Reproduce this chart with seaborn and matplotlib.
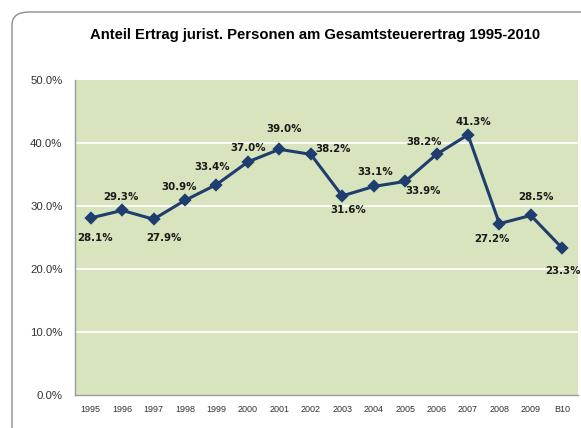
import matplotlib
matplotlib.use("Agg")
import matplotlib.pyplot as plt
from matplotlib.patches import FancyBboxPatch
import seaborn as sns

# data
years = ["1995", "1996", "1997", "1998", "1999", "2000", "2001", "2002",
         "2003", "2004", "2005", "2006", "2007", "2008", "2009", "B10"]
share = [28.1, 29.3, 27.9, 30.9, 33.4, 37.0, 39.0, 38.2,
         31.6, 33.1, 33.9, 38.2, 41.3, 27.2, 28.5, 23.3]
yticks = [0, 10, 20, 30, 40, 50]

# label offsets in pixels (dx, dy), layout only
label_off = [(4, -20), (-1, 13), (10, -19), (-6, 13), (-4, 18), (0, 14),
             (5, 20), (22, 5), (6, -14), (2, 14), (18, -10), (-12, 12),
             (5, 13), (-7, -15), (5, 18), (1, -23)]

line_col = "#1f3d6e"
bg_col = "#d7e4bd"

sns.set_theme(style="white")
plt.rcParams["font.family"] = ["Liberation Sans", "DejaVu Sans"]

fig = plt.figure(figsize=(5.81, 4.28), dpi=100)
ax = fig.add_axes([75 / 581, 1 - 395 / 428, 503 / 581, 315 / 428])

# chart frame with rounded corner (continues past the image edge)
frame = FancyBboxPatch((12 / 581, -0.2), 1.2, 1 - 12 / 428 + 0.2,
                       boxstyle="round,pad=0,rounding_size=0.03",
                       transform=fig.transFigure, fill=False,
                       edgecolor="#8c8c8c", linewidth=1.0, zorder=-5)
fig.patches.append(frame)

ax.set_facecolor(bg_col)
sns.pointplot(x=years, y=share, ax=ax, color=line_col, markers="D",
              markersize=5, linewidth=2.2, errorbar=None)

for i, (v, (dx, dy)) in enumerate(zip(share, label_off)):
    ax.annotate(f"{v:.1f}%", (i, v), xytext=(dx, dy), textcoords="offset pixels",
                ha="center", va="center", fontsize=7.4, fontweight="bold",
                color="#1a1a1a", family="DejaVu Sans", annotation_clip=False)

ax.set_xlim(-0.5, len(years) - 0.5)
ax.set_ylim(0, 50)
ax.set_yticks(yticks)
ax.set_yticklabels([f"{t:.1f}%" for t in yticks], fontsize=8.2, color="#333333")
ax.set_xticks(range(len(years)))
ax.set_xticklabels(years, fontsize=6.5, color="#333333")
ax.tick_params(axis="y", length=0, pad=9)
ax.tick_params(axis="x", length=0, pad=7)
ax.set_xlabel("")
ax.set_ylabel("")

for y in yticks[1:-1]:
    ax.axhline(y, color="white", linewidth=1.3, zorder=0.5)

for side in ["top", "right"]:
    ax.spines[side].set_visible(False)
for side in ["left", "bottom"]:
    ax.spines[side].set_color("#9a9a9a")
    ax.spines[side].set_linewidth(1.0)

fig.text(315 / 581, 1 - 35 / 428,
         "Anteil Ertrag jurist. Personen am Gesamtsteuerertrag 1995-2010",
         ha="center", va="center", fontsize=10.7, fontweight="bold", color="black")

fig.savefig("out.png", dpi=100)
